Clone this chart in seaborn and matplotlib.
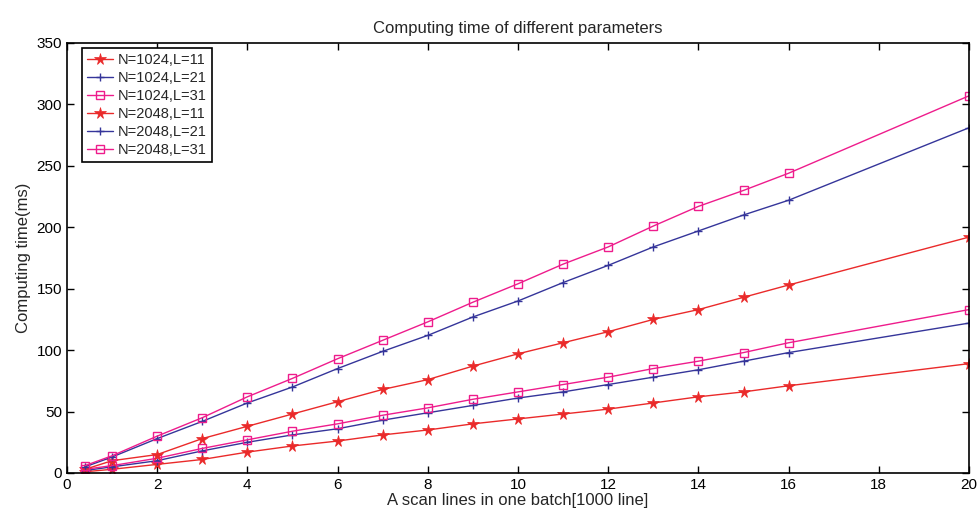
import matplotlib
matplotlib.use("Agg")
import matplotlib.pyplot as plt
import seaborn as sns
import pandas as pd

x = [0.4, 1, 2, 3, 4, 5, 6, 7, 8, 9, 10, 11, 12, 13, 14, 15, 16, 20]
n1024_l11 = [1, 3, 7, 11, 17, 22, 26, 31, 35, 40, 44, 48, 52, 57, 62, 66, 71, 89]
n1024_l21 = [2, 5, 10, 18, 25, 31, 36, 43, 49, 55, 61, 66, 72, 78, 84, 91, 98, 122]
n1024_l31 = [3, 6, 12, 20, 27, 34, 40, 47, 53, 60, 66, 72, 78, 85, 91, 98, 106, 133]
n2048_l11 = [3, 10, 15, 28, 38, 48, 58, 68, 76, 87, 97, 106, 115, 125, 133, 143, 153, 192]
n2048_l21 = [5, 13, 28, 42, 57, 70, 85, 99, 112, 127, 140, 155, 169, 184, 197, 210, 222, 281]
n2048_l31 = [6, 14, 30, 45, 62, 77, 93, 108, 123, 139, 154, 170, 184, 201, 217, 230, 244, 307]

labels = ["N=1024,L=11", "N=1024,L=21", "N=1024,L=31",
          "N=2048,L=11", "N=2048,L=21", "N=2048,L=31"]
series = [n1024_l11, n1024_l21, n1024_l31, n2048_l11, n2048_l21, n2048_l31]

sns.set_style("ticks")
plt.rcParams['font.family'] = ['Liberation Sans', 'DejaVu Sans']

red = "#ea2a2a"
blue = "#35359a"
mag = "#ee1c8c"
styles = {
    "L=11": dict(color=red, marker="*", markersize=8.5, markerfacecolor=red, markeredgecolor=red, markeredgewidth=0.5),
    "L=21": dict(color=blue, marker="+", markersize=6, markerfacecolor=blue, markeredgecolor=blue, markeredgewidth=1.0),
    "L=31": dict(color=mag, marker="s", markersize=5.5, markerfacecolor="none", markeredgecolor=mag, markeredgewidth=1.0),
}

fig = plt.figure(figsize=(9.79, 5.13), dpi=100)
ax = fig.add_axes([0.0684, 0.078, 0.9214, 0.8382])

for lab, ys in zip(labels, series):
    df = pd.DataFrame({"x": x, "y": ys})
    st = styles[lab.split(",")[1]]
    sns.lineplot(data=df, x="x", y="y", ax=ax, label=lab, linewidth=1.0, **st)

ax.set_xlim(0, 20)
ax.set_ylim(0, 350)
ax.set_xticks(range(0, 21, 2))
ax.set_yticks(range(0, 351, 50))
ax.tick_params(direction="in", top=True, right=True, labelsize=11, length=5, width=1, colors="black")
for s in ax.spines.values():
    s.set_visible(True)
    s.set_linewidth(1.2)
    s.set_color("black")
ax.set_xlabel("A scan lines in one batch[1000 line]", fontsize=12, labelpad=1)
ax.set_ylabel("Computing time(ms)", fontsize=12, labelpad=4)
ax.set_title("Computing time of different parameters", fontsize=12, pad=7)

leg = ax.legend(loc="upper left", bbox_to_anchor=(0.0166, 0.988), borderaxespad=0,
                fontsize=10.5, frameon=True, fancybox=False,
                edgecolor="black", borderpad=0.35, labelspacing=0.27, handlelength=1.8,
                handletextpad=0.3)
leg.get_frame().set_linewidth(1.2)
leg.get_frame().set_alpha(1)

fig.savefig("out.png", dpi=100)
